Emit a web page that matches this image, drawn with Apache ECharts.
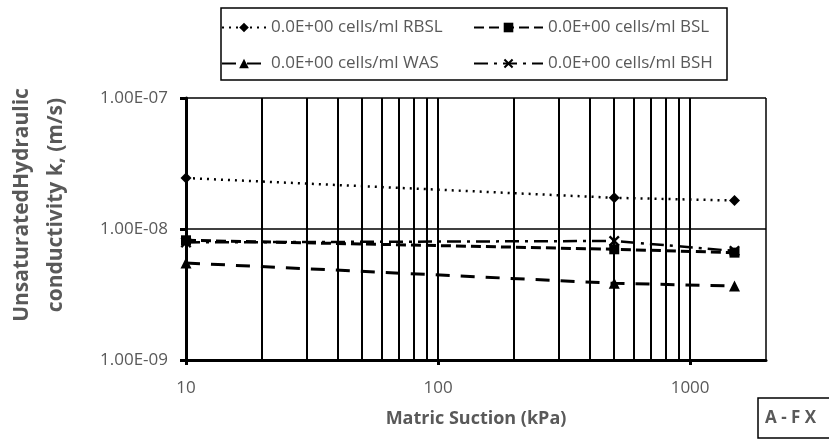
<!DOCTYPE html>
<html>
<head>
<meta charset="utf-8">
<style>
    html, body { margin: 0; padding: 0; background: #fff; }
    #main { width: 829px; height: 439px; }
</style>
</head>
<body>
<div id="main"></div>
<script src="https://cdn.jsdelivr.net/npm/echarts@6/dist/echarts.min.js"></script>
<script type="text/javascript">
    // matric suction (kPa) at the measured points
    var suction = [10, 500, 1500];
    // unsaturated hydraulic conductivity k (m/s)
    var kRBSL = [2.45e-8, 1.73e-8, 1.65e-8];
    var kBSL = [8.2e-9, 7.0e-9, 6.6e-9];
    var kWAS = [5.5e-9, 3.85e-9, 3.67e-9];
    var kBSH = [7.9e-9, 8.1e-9, 6.8e-9];
    var seriesNames = ['0.0E+00 cells/ml RBSL', '0.0E+00 cells/ml BSL', '0.0E+00 cells/ml WAS', '0.0E+00 cells/ml BSH'];
    // vertical grid lines of the log x axis
    var xGrid = [20, 30, 40, 50, 60, 70, 80, 90, 100, 200, 300, 400, 500, 600, 700, 800, 900, 1000];
    var xTicks = [10, 100, 1000];

    var grey = '#595959';
    var font = 'Open Sans';
    var crossIcon = 'path://M0,1.5L1.5,0L5,3.5L8.5,0L10,1.5L6.5,5L10,8.5L8.5,10L5,6.5L1.5,10L0,8.5L3.5,5Z';

    function pairs(ys) {
        return suction.map(function (x, i) { return [x, ys[i]]; });
    }

    function sciLabel(v) {
        var e = Math.round(Math.log10(v));
        var m = v / Math.pow(10, e);
        var a = Math.abs(e);
        return m.toFixed(2) + 'E' + (e < 0 ? '-' : '+') + (a < 10 ? '0' : '') + a;
    }

    var myChart = echarts.init(document.getElementById('main'));

    var legendText = {color: grey, fontSize: 17, fontFamily: font};

    var option = {
        animation: false,
        backgroundColor: '#fff',
        grid: {left: 186, right: 63, top: 98, bottom: 79},
        legend: [{
            data: [seriesNames[0], seriesNames[2]],
            orient: 'vertical',
            left: 216, top: 14,
            itemWidth: 44, itemHeight: 12, itemGap: 19,
            textStyle: legendText
        }, {
            data: [seriesNames[1], seriesNames[3]],
            orient: 'vertical',
            left: 468, top: 14,
            itemWidth: 69, itemHeight: 12, itemGap: 19,
            textStyle: legendText
        }],
        xAxis: {
            type: 'log',
            logBase: 10,
            min: 10,
            max: 2000,
            name: 'Matric Suction (kPa)',
            nameLocation: 'middle',
            nameGap: 50,
            nameTextStyle: {color: grey, fontSize: 18, fontWeight: 'bold', fontFamily: font},
            axisLine: {lineStyle: {color: '#000', width: 3}},
            axisTick: {show: true, length: 5, lineStyle: {color: '#000', width: 3}, customValues: xTicks},
            axisLabel: {
                color: grey, fontSize: 17, fontFamily: font, margin: 20, customValues: xTicks,
                formatter: function (v) { return String(v); }
            },
            splitLine: {show: false}
        },
        yAxis: {
            type: 'log',
            logBase: 10,
            min: 1e-9,
            max: 1e-7,
            axisLine: {show: true, lineStyle: {color: '#000', width: 3}},
            axisTick: {show: true, length: 6, lineStyle: {color: '#000', width: 3}},
            axisLabel: {color: grey, fontSize: 17, fontFamily: font, margin: 18, formatter: sciLabel},
            splitLine: {show: true, lineStyle: {color: '#000', width: 1.5}}
        },
        graphic: [
            {
                type: 'rect',
                shape: {x: 221, y: 8, width: 506, height: 72},
                style: {fill: 'none', stroke: '#000', lineWidth: 1.5}
            },
            {
                type: 'text',
                x: 39, y: 205,
                rotation: Math.PI / 2,
                style: {
                    text: 'UnsaturatedHydraulic\nconductivity k, (m/s)',
                    fill: grey,
                    font: 'bold 21px "Open Sans"',
                    lineHeight: 34,
                    align: 'center',
                    verticalAlign: 'middle'
                }
            },
            {
                type: 'rect',
                shape: {x: 758, y: 398, width: 80, height: 40},
                style: {fill: '#fff', stroke: '#000', lineWidth: 1.5}
            },
            {
                type: 'text',
                x: 765, y: 418,
                style: {
                    text: 'A - F X',
                    fill: grey,
                    font: 'bold 17px "Open Sans"',
                    verticalAlign: 'middle'
                }
            }
        ],
        series: [
            {
                // grid lines only
                type: 'line',
                data: [],
                z: 1,
                silent: true,
                markLine: {
                    silent: true,
                    symbol: 'none',
                    label: {show: false},
                    lineStyle: {color: '#000', width: 2, type: 'solid'},
                    data: xGrid.map(function (v) { return {xAxis: v}; })
                        .concat([{xAxis: 2000, lineStyle: {width: 1.5}}])
                }
            },
            {
                name: seriesNames[0],
                type: 'line',
                z: 5,
                data: pairs(kRBSL),
                symbol: 'diamond',
                symbolSize: 11,
                itemStyle: {color: '#000'},
                lineStyle: {color: '#000', width: 2.5, type: [2, 5]}
            },
            {
                name: seriesNames[1],
                type: 'line',
                z: 5,
                data: pairs(kBSL),
                symbol: 'rect',
                symbolSize: 10,
                itemStyle: {color: '#000'},
                lineStyle: {color: '#000', width: 3, type: [10, 5]}
            },
            {
                name: seriesNames[2],
                type: 'line',
                z: 5,
                data: pairs(kWAS),
                symbol: 'triangle',
                symbolSize: 11,
                itemStyle: {color: '#000'},
                lineStyle: {color: '#000', width: 3, type: [14, 11]}
            },
            {
                name: seriesNames[3],
                type: 'line',
                z: 5,
                data: pairs(kBSH),
                symbol: crossIcon,
                symbolSize: 11,
                itemStyle: {color: '#000'},
                lineStyle: {color: '#000', width: 2.5, type: [14, 6, 3, 6]}
            }
        ]
    };

    myChart.setOption(option);
</script>
</body>
</html>
